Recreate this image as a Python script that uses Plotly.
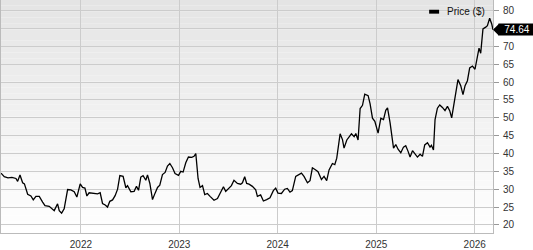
import pandas as pd
import plotly.graph_objects as go

# decimal-year dates of the weekly closes
year_frac = [
    2021.188, 2021.221, 2021.259, 2021.299, 2021.340, 2021.357, 2021.381, 2021.408, 2021.426, 2021.459,
    2021.492, 2021.516, 2021.543, 2021.577, 2021.611, 2021.635, 2021.678, 2021.706, 2021.729, 2021.763,
    2021.780, 2021.804, 2021.830, 2021.865, 2021.898, 2021.932, 2021.959, 2021.993, 2022.017, 2022.041,
    2022.061, 2022.084, 2022.122, 2022.170, 2022.196, 2022.220, 2022.247, 2022.271, 2022.294, 2022.322,
    2022.348, 2022.373, 2022.396, 2022.429, 2022.457, 2022.474, 2022.508, 2022.541, 2022.565, 2022.586,
    2022.609, 2022.632, 2022.660, 2022.677, 2022.701, 2022.728, 2022.754, 2022.779, 2022.802, 2022.829,
    2022.856, 2022.880, 2022.904, 2022.931, 2022.957, 2022.992, 2023.015, 2023.039, 2023.066, 2023.093,
    2023.127, 2023.150, 2023.168, 2023.191, 2023.211, 2023.236, 2023.259, 2023.286, 2023.313, 2023.353,
    2023.388, 2023.421, 2023.449, 2023.472, 2023.506, 2023.530, 2023.556, 2023.591, 2023.624, 2023.642,
    2023.665, 2023.685, 2023.709, 2023.743, 2023.777, 2023.794, 2023.827, 2023.855, 2023.888, 2023.922,
    2023.956, 2023.980, 2024.003, 2024.038, 2024.071, 2024.098, 2024.125, 2024.149, 2024.183, 2024.216,
    2024.241, 2024.267, 2024.302, 2024.328, 2024.352, 2024.386, 2024.409, 2024.444, 2024.470, 2024.497,
    2024.521, 2024.555, 2024.579, 2024.599, 2024.633, 2024.657, 2024.673, 2024.701, 2024.724, 2024.748,
    2024.775, 2024.792, 2024.815, 2024.836, 2024.860, 2024.883, 2024.917, 2024.937, 2024.961, 2024.985,
    2025.018, 2025.046, 2025.073, 2025.096, 2025.114, 2025.140, 2025.175, 2025.198, 2025.221, 2025.249,
    2025.276, 2025.299, 2025.323, 2025.343, 2025.368, 2025.391, 2025.418, 2025.445, 2025.469, 2025.492,
    2025.520, 2025.546, 2025.560, 2025.581, 2025.597, 2025.621, 2025.645, 2025.672, 2025.698, 2025.723,
    2025.746, 2025.766, 2025.790, 2025.807, 2025.830, 2025.858, 2025.881, 2025.902, 2025.926, 2025.949,
    2025.977, 2026.003, 2026.028, 2026.044, 2026.061, 2026.084, 2026.112, 2026.129, 2026.152, 2026.173,
    2026.186,
]

price = [
    34.5, 33.5, 33.2, 33.3, 33.0, 32.2, 34.0, 31.8, 31.5, 28.6,
    28.1, 27.0, 28.0, 28.0, 26.4, 25.4, 25.2, 24.6, 24.0, 25.9,
    24.0, 23.3, 24.5, 29.9, 29.8, 29.3, 27.8, 31.5, 30.5, 30.3,
    28.1, 29.0, 28.8, 28.7, 29.0, 26.0, 25.6, 25.0, 26.6, 27.0,
    28.2, 30.0, 33.8, 33.6, 30.4, 31.0, 29.3, 29.4, 30.8, 29.7,
    33.4, 33.8, 32.5, 34.0, 31.6, 27.1, 28.9, 30.5, 31.1, 34.1,
    34.7, 36.5, 37.2, 36.0, 34.4, 33.9, 35.0, 34.8, 37.4, 39.0,
    38.9, 39.2, 40.0, 33.0, 30.5, 31.0, 28.5, 28.8, 28.0, 26.9,
    27.4, 29.2, 30.7, 29.4, 30.3, 31.0, 32.5, 31.6, 31.4, 31.8,
    33.5, 31.6, 31.4, 30.8, 29.8, 28.0, 28.4, 26.7, 27.1, 27.6,
    29.6, 30.3, 28.9, 28.8, 30.0, 30.2, 29.2, 29.6, 33.6, 34.1,
    34.5, 33.6, 31.8, 32.4, 36.0, 35.4, 34.9, 32.7, 33.6, 32.4,
    35.4, 37.2, 36.9, 38.7, 45.5, 43.9, 41.5, 43.8, 44.5, 45.5,
    44.7, 45.6, 43.8, 52.6, 53.5, 56.6, 56.2, 53.9, 49.9, 49.0,
    45.7, 49.9, 49.5, 52.1, 52.8, 48.6, 41.5, 42.5, 41.2, 40.2,
    41.8, 42.2, 40.6, 39.0, 40.8, 40.0, 39.0, 39.8, 39.2, 42.4,
    43.0, 41.8, 42.3, 41.0, 49.5, 52.7, 53.6, 52.9, 52.0, 53.2,
    52.0, 50.0, 53.6, 56.3, 60.7, 59.0, 56.5, 59.0, 60.4, 64.0,
    64.5, 63.6, 67.2, 69.5, 68.1, 74.9, 75.4, 75.8, 77.9, 76.3,
    74.64,
]

y_ticks = [20, 25, 30, 35, 40, 45, 50, 55, 60, 65, 70, 75, 80]
# the 75 label sits behind the last-value box in the reference
y_tick_text = ["20", "25", "30", "35", "40", "45", "50", "55", "60", "65", "70", "", "80"]
x_tick_years = [2022, 2023, 2024, 2025, 2026]
series_name = "Price ($)"
last_label = "74.64"


def to_date(d):
    y = int(d)
    start = pd.Timestamp(year=y, month=1, day=1)
    end = pd.Timestamp(year=y + 1, month=1, day=1)
    return start + (d - y) * (end - start)


dates = [to_date(d) for d in year_frac]

FONT = "Arial, Liberation Sans, sans-serif"
GRID = "#cccccc"
PLOT_W = 493
PLOT_H = 239

fig = go.Figure()
fig.add_trace(go.Scatter(
    x=dates, y=price, mode="lines",
    line=dict(color="#000000", width=1.3),
    name=series_name, showlegend=False,
))

# vertical gradient background of the plot area
shapes = []
n = 40
for i in range(n):
    t = (i + 0.5) / n  # 0 bottom -> 1 top
    c = int(round(255 - t * (255 - 228)))
    shapes.append(dict(
        type="rect", xref="paper", yref="paper",
        x0=0, x1=1, y0=i / n, y1=(i + 1) / n,
        fillcolor=f"rgb({c},{c},{c})", line=dict(width=0), layer="below",
    ))

# legend swatch
shapes.append(dict(
    type="rect", xref="paper", yref="paper",
    x0=429 / PLOT_W, x1=439 / PLOT_W, y0=1 - 14 / PLOT_H, y1=1 - 10 / PLOT_H,
    fillcolor="#000000", line=dict(width=0),
))

# pointer of last-value label
shapes.append(dict(
    type="path", xref="paper", yref="y",
    xsizemode="pixel", ysizemode="pixel",
    xanchor=1, yanchor=price[-1],
    path="M 0 0 L 6 6 L 6 -6 Z",
    fillcolor="#000000", line=dict(width=0),
))

annotations = [
    dict(
        xref="paper", yref="paper", x=445 / PLOT_W, y=1 - 12 / PLOT_H,
        xanchor="left", yanchor="middle", showarrow=False,
        text=series_name, font=dict(family=FONT, size=10, color="#111111"),
    ),
    dict(
        xref="paper", yref="y", x=1, y=price[-1],
        xanchor="left", yanchor="middle", xshift=5, showarrow=False,
        text=last_label, font=dict(family=FONT, size=10, color="#ffffff"),
        bgcolor="#000000", width=36, height=11, borderpad=0, align="center",
    ),
]

fig.update_layout(
    width=533, height=250,
    margin=dict(l=0, r=40, t=0, b=11),
    paper_bgcolor="#ffffff", plot_bgcolor="rgba(0,0,0,0)",
    shapes=shapes, annotations=annotations,
    font=dict(family=FONT, size=10, color="#333333"),
    showlegend=False,
)

fig.update_xaxes(
    type="date",
    range=[to_date(year_frac[0]), to_date(year_frac[-1])],
    tickvals=[pd.Timestamp(year=y, month=1, day=1) for y in x_tick_years],
    ticktext=[str(y) for y in x_tick_years],
    showgrid=True, gridcolor=GRID, gridwidth=1,
    showline=True, linecolor="#bbbbbb", linewidth=1,
    ticks="", ticklabelstandoff=2,
    tickfont=dict(family=FONT, size=10, color="#333333"),
    zeroline=False,
)
fig.update_yaxes(
    side="right", range=[17.73, 83.0],
    tickvals=y_ticks, ticktext=y_tick_text,
    showgrid=True, gridcolor=GRID, gridwidth=1,
    showline=True, linecolor="#bbbbbb", linewidth=1, mirror=True,
    ticks="outside", ticklen=5, tickcolor="#999999",
    ticklabelstandoff=2,
    tickfont=dict(family=FONT, size=10, color="#333333"),
    zeroline=False,
)

fig.write_html("out.html")
